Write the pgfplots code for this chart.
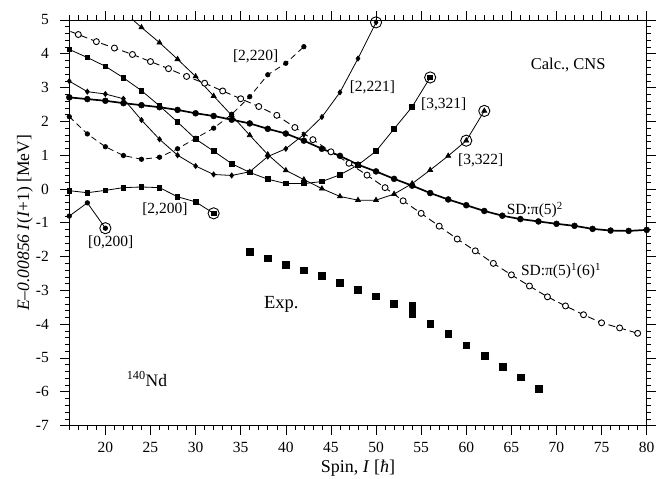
\documentclass[border=0pt]{standalone}
\usepackage{fontspec}
\setmainfont{Liberation Serif}
\usepackage{pgfplots}
\pgfplotsset{compat=1.18}

\begin{document}
\begin{tikzpicture}
\useasboundingbox (-69.3pt,-53.4pt) rectangle (597.7pt,425.6pt);
\begin{axis}[
  scale only axis, width=577.4pt, height=405.6pt,
  xmin=16, xmax=80, ymin=-7, ymax=5,
  xtick={20,25,...,80}, ytick={-7,-6,...,5},
  minor xtick={16,17,...,80}, minor ytick={-7,-6.8,...,5},
  tick align=outside, major tick length=9pt, minor tick length=4.5pt,
  every tick/.style={black, line width=0.6pt},
  axis line style={line width=0.8pt},
  tick label style={font=\fontsize{15.5}{17}\selectfont},
  yticklabel style={xshift=-8pt},
  xticklabel style={yshift=-4pt},
  label style={font=\fontsize{18}{20}\selectfont},
  /pgf/number format/assume math mode=true,
  xlabel={Spin, \textit{I} [\textit{ħ}]},
  ylabel={\textit{E}–\textit{0.00856 I}(\textit{I}+1) [MeV]},
  xlabel style={at={(axis description cs:0.5,-0.104)}, anchor=center},
  ylabel style={at={(axis description cs:-0.077,0.5)}, anchor=center, font=\fontsize{17.5}{19}\selectfont},
]
% SD: pi(5)^2
\addplot[black, line width=1.7pt, mark=*, mark size=3pt, mark options={line width=0.4pt}] coordinates {
 (16,2.71) (18,2.66) (20,2.61) (22,2.54) (24,2.48) (26,2.42) (28,2.34) (30,2.24)
 (32,2.16) (34,2.05) (36,1.94) (38,1.78) (40,1.64) (42,1.43) (44,1.19) (46,0.98)
 (48,0.72) (50,0.52) (52,0.30) (54,0.10) (56,-0.12) (58,-0.31) (60,-0.48) (62,-0.65)
 (64,-0.79) (66,-0.89) (68,-0.96) (70,-1.03) (72,-1.09) (74,-1.18) (76,-1.23) (78,-1.24) (80,-1.21)};
% SD: pi(5)^1(6)^1
\addplot[black, line width=0.9pt, dash pattern=on 7pt off 4pt, mark=*, mark size=3pt,
  mark options={solid, fill=white, line width=0.9pt}] coordinates {
 (15,4.78) (17,4.57) (19,4.36) (21,4.17) (23,3.98) (25,3.77) (27,3.56) (29,3.33)
 (31,3.13) (33,2.90) (35,2.67) (37,2.44) (39,2.18) (41,1.82) (43,1.46) (45,1.10)
 (47,0.76) (49,0.41) (51,0.04) (53,-0.35) (55,-0.72) (57,-1.10) (59,-1.48) (61,-1.83)
 (63,-2.20) (65,-2.54) (67,-2.87) (69,-3.19) (71,-3.46) (73,-3.72) (75,-3.96) (77,-4.11) (79,-4.27)};
% [2,220]
\addplot[black, line width=0.8pt, dash pattern=on 6pt off 4pt, mark=*, mark size=2.2pt, mark options={solid}] coordinates {
 (16,2.14) (18,1.63) (20,1.25) (22,0.99) (24,0.88) (26,0.94) (28,1.19) (30,1.50)
 (32,1.80) (34,2.21) (36,2.73) (38,3.38) (40,3.72) (42,4.21)};
% [2,221]
\addplot[black, line width=0.8pt, mark=diamond*, mark size=2.5pt] coordinates {
 (16,3.19) (18,2.88) (20,2.81) (22,2.67) (24,2.04) (26,1.47) (28,1.00) (30,0.68)
 (32,0.43) (34,0.40) (36,0.51) (38,0.96) (40,1.19) (42,1.61) (44,2.13) (46,2.86)
 (48,3.86) (50,4.93)};
% [3,321]
\addplot[black, line width=0.8pt, mark=square*, mark size=2.3pt] coordinates {
 (16,4.13) (18,3.89) (20,3.63) (22,3.29) (24,2.91) (26,2.46) (28,1.98) (30,1.48)
 (32,1.12) (34,0.75) (36,0.49) (38,0.29) (40,0.16) (42,0.16) (44,0.22) (46,0.42)
 (48,0.71) (50,1.12) (52,1.78) (54,2.43) (56,3.30)};
% [3,322]
\addplot[black, line width=0.8pt, mark=triangle*, mark size=2.8pt] coordinates {
 (22,5.25) (24,4.78) (26,4.33) (28,3.84) (30,3.33) (32,2.75) (34,2.18) (36,1.59)
 (38,1.02) (40,0.55) (42,0.28) (44,0.01) (46,-0.22) (48,-0.33) (50,-0.33) (52,-0.15)
 (54,0.16) (56,0.56) (58,0.98) (60,1.43) (62,2.31)};
% [2,200]
\addplot[black, line width=0.8pt, mark=square*, mark size=2.3pt] coordinates {
 (16,-0.05) (18,-0.11) (20,-0.04) (22,0.04) (24,0.06) (26,0.04) (28,-0.23) (30,-0.38) (32,-0.72)};
% [0,200]
\addplot[black, line width=0.8pt, mark=*, mark size=2.2pt] coordinates {
 (16,-0.80) (18,-0.41) (20,-1.16)};
% Exp.
\addplot[black, only marks, mark=square*, mark size=3.4pt] coordinates {
 (36,-1.86) (38,-2.05) (40,-2.23) (42,-2.40) (44,-2.57) (46,-2.77) (48,-2.97) (50,-3.17)
 (52,-3.40) (54,-3.45) (54,-3.70) (56,-3.99) (58,-4.29) (60,-4.62) (62,-4.94) (64,-5.26)
 (66,-5.57) (68,-5.91)};
% band terminations
\addplot[black, only marks, mark=o, mark size=5.6pt, mark options={line width=0.9pt}] coordinates {
 (20,-1.16) (32,-0.72) (50,4.93) (56,3.30) (60,1.43) (62,2.31)};

\begin{scope}[every node/.style={font=\fontsize{15.5}{17}\selectfont, inner sep=0pt}]
\node at (axis cs:71.3,3.67) {\fontsize{16.5}{18}\selectfont Calc., CNS};
\node at (axis cs:36.65,3.92) {[2,220]};
\node at (axis cs:49.6,3.0) {[2,221]};
\node at (axis cs:57.5,2.51) {[3,321]};
\node at (axis cs:61.6,0.84) {[3,322]};
\node at (axis cs:67.6,-0.62) {SD:π(5)\textsuperscript{2}};
\node at (axis cs:70.5,-2.42) {SD:π(5)\textsuperscript{1}(6)\textsuperscript{1}};
\node at (axis cs:26.6,-0.59) {[2,200]};
\node at (axis cs:20.6,-1.58) {[0,200]};
\node at (axis cs:39.5,-3.40) {\fontsize{18.5}{20}\selectfont Exp.};
\node at (axis cs:24.6,-5.62) {\fontsize{17.5}{19}\selectfont\textsuperscript{140}Nd};
\end{scope}
\end{axis}
\end{tikzpicture}
\end{document}
